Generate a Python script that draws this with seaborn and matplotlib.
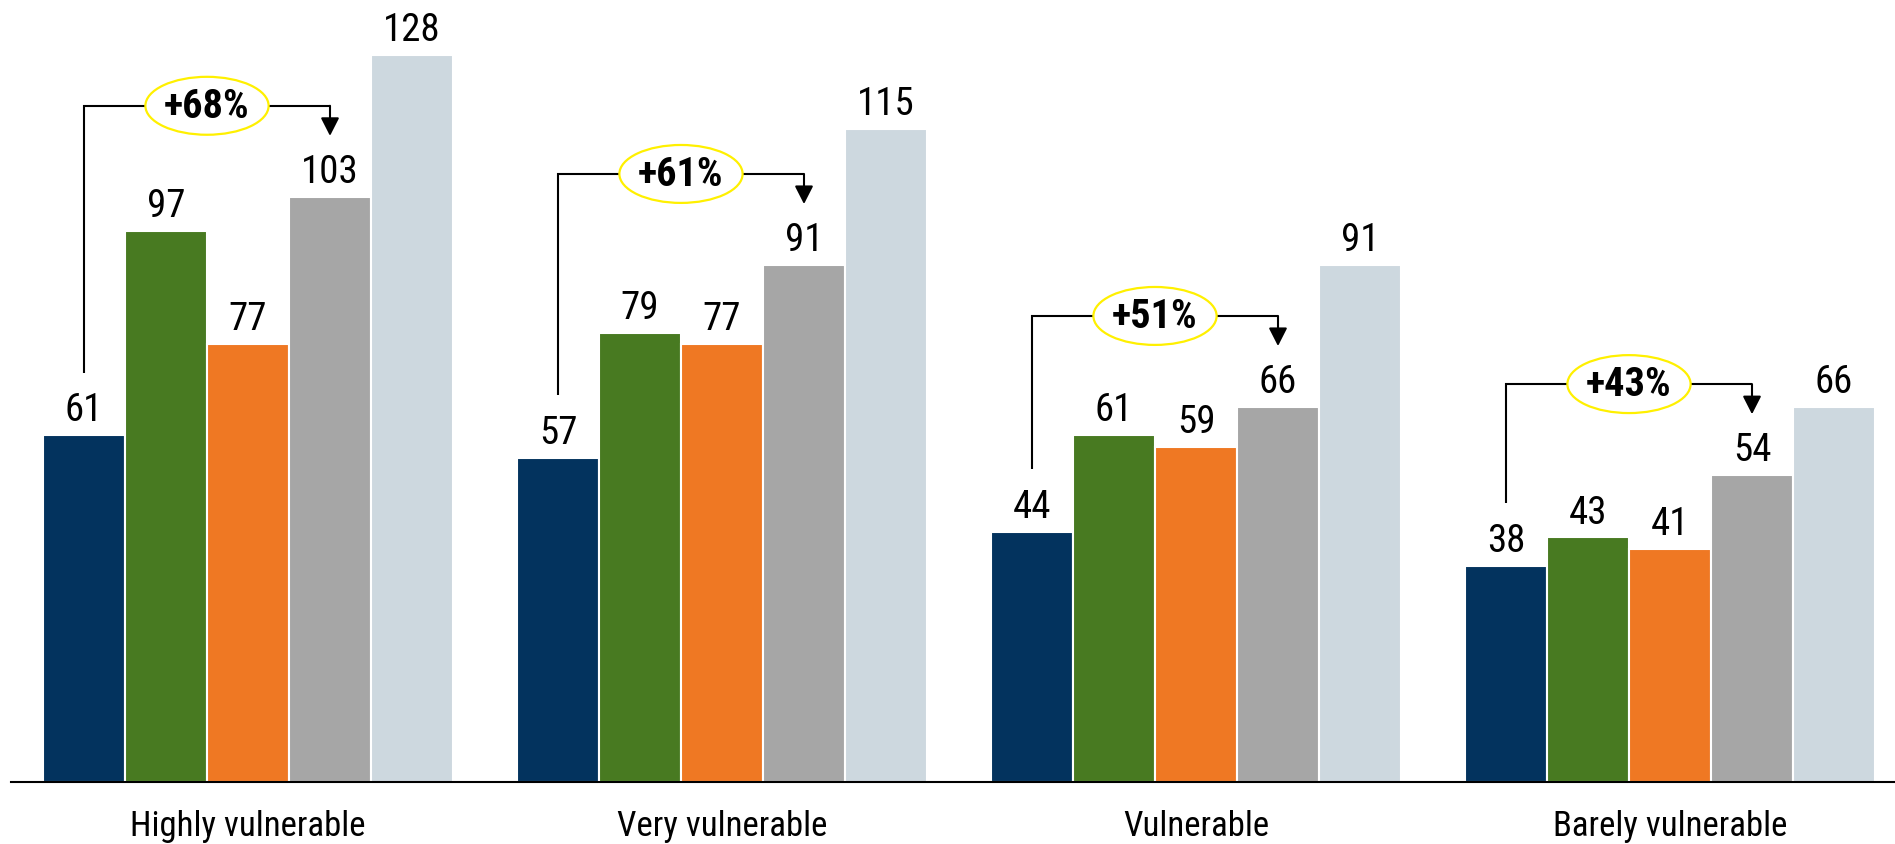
import matplotlib
matplotlib.use("Agg")
import matplotlib.pyplot as plt
from matplotlib.patches import Ellipse
from matplotlib import font_manager
import seaborn as sns
import pandas as pd

# Data
categories = ["Highly vulnerable", "Very vulnerable", "Vulnerable", "Barely vulnerable"]
series = ["A", "B", "C", "D", "E"]
values_a = [61, 57, 44, 38]
values_b = [97, 79, 61, 43]
values_c = [77, 77, 59, 41]
values_d = [103, 91, 66, 54]
values_e = [128, 115, 91, 66]
growth_labels = ["+68%", "+61%", "+51%", "+43%"]

colors = ["#03335e", "#487a21", "#ef7823", "#a6a6a6", "#cdd8df"]

rows = []
for s, vals in zip(series, [values_a, values_b, values_c, values_d, values_e]):
    for c, v in zip(categories, vals):
        rows.append({"category": c, "series": s, "value": v})
df = pd.DataFrame(rows)

sns.set_theme(style="white")
installed = {f.name for f in font_manager.fontManager.ttflist}
narrow = "Liberation Sans Narrow" if "Liberation Sans Narrow" in installed else "Roboto Condensed"
plt.rcParams["font.family"] = [narrow, "Liberation Sans", "DejaVu Sans"]

fig = plt.figure(figsize=(18.95, 8.45), dpi=100)
ax = fig.add_axes([11 / 1895, 62.3 / 845, 1896 / 1895, 782.7 / 845])

sns.barplot(data=df, x="category", y="value", hue="series", palette=colors,
            width=0.865, edgecolor="white", linewidth=1.5, saturation=1,
            legend=False, ax=ax)

ax.set_xlim(-0.5, 3.5)
ax.set_ylim(0, 137.8)
ax.set_xlabel("")
ax.set_ylabel("")
ax.set_yticks([])
for side in ["top", "left", "right"]:
    ax.spines[side].set_visible(False)
ax.spines["bottom"].set_color("black")
ax.spines["bottom"].set_linewidth(1.5)
ax.tick_params(axis="x", length=0, pad=20, labelsize=25, colors="black")

for cont in ax.containers:
    ax.bar_label(cont, padding=5, fontsize=28, color="black")

# Growth brackets from the first to the fourth series in each group
first = ax.containers[0]
fourth = ax.containers[3]
for i, lab in enumerate(growth_labels):
    b1 = first[i]
    b4 = fourth[i]
    x1 = b1.get_x() + b1.get_width() / 2
    x4 = b4.get_x() + b4.get_width() / 2
    v1 = b1.get_height()
    v4 = b4.get_height()
    hy = v4 + 16
    ax.plot([x1, x1, x4], [v1 + 11, hy, hy], color="black", lw=1.5,
            solid_capstyle="butt", solid_joinstyle="miter", zorder=4)
    ax.annotate("", xy=(x4, v4 + 10.7), xytext=(x4, hy),
                arrowprops=dict(arrowstyle="-|>,head_length=0.55,head_width=0.28",
                                color="black", lw=1.5, shrinkA=0, shrinkB=0,
                                mutation_scale=20), zorder=4)
    xm = (x1 + x4) / 2
    ax.add_patch(Ellipse((xm, hy), width=0.26, height=10.2, facecolor="white",
                         edgecolor="#fff000", lw=1.6, zorder=5))
    ax.text(xm, hy, lab, ha="center", va="center", fontsize=29,
            fontweight="bold", color="black", zorder=6)

fig.savefig("out.png", dpi=100)
